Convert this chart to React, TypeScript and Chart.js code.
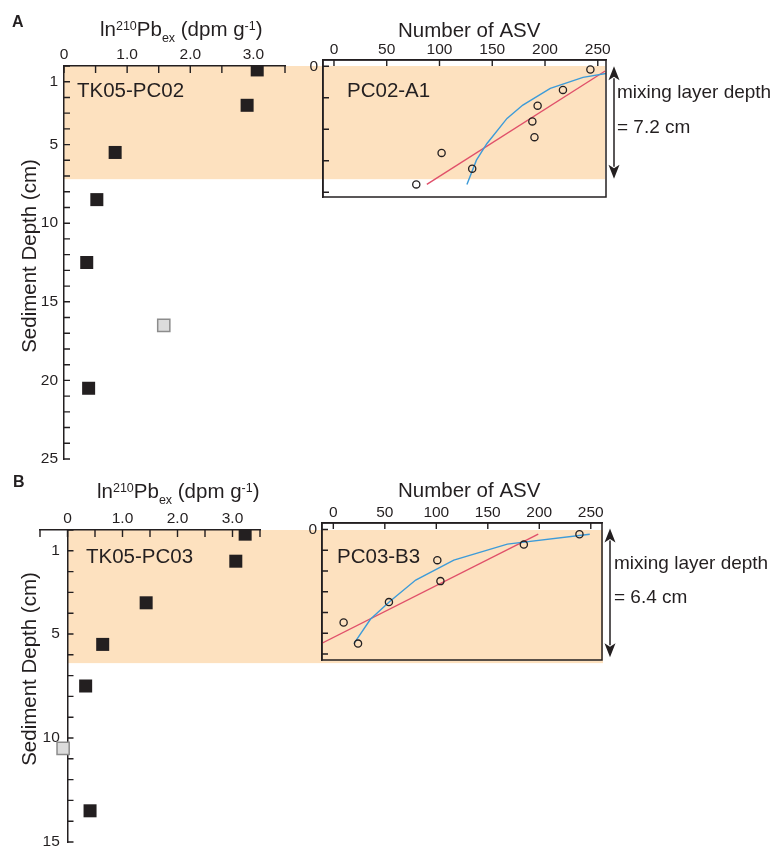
import React, { useEffect, useRef } from "react";
import { Chart, registerables } from "chart.js";

Chart.register(...registerables);

// ---------------- data: panel A (TK05-PC02 / PC02-A1) ----------------
const pbDepthA = [0.25, 2.5, 5.5, 8.5, 12.5, 20.5];
const pbValueA = [3.06, 2.9, 0.81, 0.52, 0.36, 0.39];
const pbOutlierDepthA = [16.5];
const pbOutlierValueA = [1.58];
const asvDepthA = [0.2, 1.5, 2.5, 3.5, 4.5, 5.5, 6.5, 7.5];
const asvValueA = [243, 217, 193, 188, 190, 102, 131, 78];
const linFitDepthA = [7.5, 0.3];
const linFitValueA = [88, 257];
const curveFitDepthA = [7.5, 5.96, 4.9, 3.31, 2.46, 1.4, 0.7, 0.45];
const curveFitValueA = [126, 135, 145, 164, 179, 205, 236, 258];
const mixingDepthA = 7.2;

// ---------------- data: panel B (TK05-PC03 / PC03-B3) ----------------
const pbDepthB = [0.2, 1.5, 3.5, 5.5, 7.5, 13.5];
const pbValueB = [3.23, 3.06, 1.43, 0.64, 0.33, 0.41];
const pbOutlierDepthB = [10.5];
const pbOutlierValueB = [-0.08];
const asvDepthB = [0.23, 0.73, 1.48, 2.49, 3.5, 4.48, 5.5];
const asvValueB = [239, 185, 101, 104, 54, 10, 24];
const linFitDepthB = [5.48, 0.23];
const linFitValueB = [-11, 199];
const curveFitDepthB = [5.5, 4.33, 3.48, 2.44, 1.48, 0.71, 0.23];
const curveFitValueB = [20, 36, 54.5, 80, 117, 169, 249];
const mixingDepthB = 6.4;

// ---------------- ticks ----------------
const pbTicksA = [0, 0.5, 1, 1.5, 2, 2.5, 3, 3.5];
const pbTicksB = [-0.5, 0, 0.5, 1, 1.5, 2, 2.5, 3, 3.5];
const pbLabelled = [0, 1, 2, 3];
const depthTicksA = Array.from({ length: 26 }, (_, i) => i);
const depthLabelsA = [1, 5, 10, 15, 20, 25];
const depthTicksB = Array.from({ length: 16 }, (_, i) => i);
const depthLabelsB = [1, 5, 10, 15];
const asvTicks = [0, 50, 100, 150, 200, 250];
const insetDepthTicksA = [0, 2, 4, 6, 8];
const insetDepthTicksB = [0, 1, 2, 3, 4, 5, 6];
const insetDepthLabels = [0];

// ---------------- styling ----------------
const W = 776;
const H = 847;
const FONT = "'Liberation Sans', Arial, Helvetica, sans-serif";
const INK = "#231f20";
const BAND = "#fde1bf";
const RED = "#e0506a";
const BLUE = "#3d9bd8";
const GREY_FILL = "#dcdcdc";
const GREY_EDGE = "#8c8c8c";

type Run = { t: string; size: number; dy?: number; bold?: boolean };
type Label = { runs: Run[]; x: number; y: number; align?: "left" | "center"; rotate?: boolean };
type Deco = {
  band?: { fromX: number; depth: number; right: number };
  tickLenX: number;
  tickLenY: number;
  yAxisAt?: number;
  frame?: boolean;
  labels: Label[];
  arrow?: { x: number; depth: number; trimTop: number; trimBottom: number };
};

const txt = (t: string, size = 20.5): Run[] => [{ t, size }];
const lnTitle: Run[] = [
  { t: "ln", size: 20.5 },
  { t: "210", size: 12.5, dy: -6 },
  { t: "Pb", size: 20.5 },
  { t: "ex", size: 12.5, dy: 5.5 },
  { t: " (dpm g", size: 20.5 },
  { t: "-1", size: 12.5, dy: -6 },
  { t: ")", size: 20.5 },
];

const fontOf = (r: Run) => `${r.bold ? "bold " : ""}${r.size}px ${FONT}`;

function drawLabel(ctx: CanvasRenderingContext2D, l: Label) {
  ctx.save();
  ctx.fillStyle = INK;
  ctx.textBaseline = "alphabetic";
  ctx.textAlign = "left";
  ctx.translate(l.x, l.y);
  if (l.rotate) ctx.rotate(-Math.PI / 2);
  let w = 0;
  for (const r of l.runs) {
    ctx.font = fontOf(r);
    w += ctx.measureText(r.t).width;
  }
  let cx = l.align === "center" ? -w / 2 : 0;
  for (const r of l.runs) {
    ctx.font = fontOf(r);
    ctx.fillText(r.t, cx, r.dy || 0);
    cx += ctx.measureText(r.t).width;
  }
  ctx.restore();
}

function decoPlugin(cfg: Deco) {
  return {
    id: "deco",
    beforeDraw(chart: any) {
      if (!cfg.band) return;
      const { x, y } = chart.scales;
      const ctx = chart.ctx as CanvasRenderingContext2D;
      const left = x.getPixelForValue(cfg.band.fromX);
      const top = y.getPixelForValue(0);
      const bottom = y.getPixelForValue(cfg.band.depth);
      ctx.save();
      ctx.fillStyle = BAND;
      ctx.fillRect(left, top, cfg.band.right - left, bottom - top);
      ctx.restore();
    },
    afterDraw(chart: any) {
      const { x, y } = chart.scales;
      const area = chart.chartArea;
      const ctx = chart.ctx as CanvasRenderingContext2D;
      ctx.save();
      ctx.strokeStyle = INK;
      ctx.lineWidth = 1.4;
      ctx.beginPath();
      for (const t of x.ticks) {
        const px = x.getPixelForValue(t.value);
        ctx.moveTo(px, area.top);
        ctx.lineTo(px, area.top + cfg.tickLenX);
      }
      const axisX = cfg.yAxisAt !== undefined ? x.getPixelForValue(cfg.yAxisAt) : area.left;
      for (const t of y.ticks) {
        const py = y.getPixelForValue(t.value);
        ctx.moveTo(axisX, py);
        ctx.lineTo(axisX + cfg.tickLenY, py);
      }
      ctx.stroke();
      if (cfg.frame) {
        ctx.lineWidth = 1.5;
        ctx.strokeRect(area.left, area.top, area.right - area.left, area.bottom - area.top);
      }
      if (cfg.arrow) {
        const ax = cfg.arrow.x;
        const y0 = y.getPixelForValue(0) + cfg.arrow.trimTop;
        const y1 = y.getPixelForValue(cfg.arrow.depth) - cfg.arrow.trimBottom;
        const hl = 14;
        const hw = 5.5;
        ctx.lineWidth = 1.5;
        ctx.beginPath();
        ctx.moveTo(ax, y0 + hl - 2);
        ctx.lineTo(ax, y1 - hl + 2);
        ctx.stroke();
        ctx.fillStyle = INK;
        ctx.beginPath();
        ctx.moveTo(ax, y0);
        ctx.lineTo(ax + hw, y0 + hl);
        ctx.lineTo(ax, y0 + hl - 3.5);
        ctx.lineTo(ax - hw, y0 + hl);
        ctx.closePath();
        ctx.fill();
        ctx.beginPath();
        ctx.moveTo(ax, y1);
        ctx.lineTo(ax + hw, y1 - hl);
        ctx.lineTo(ax, y1 - hl + 3.5);
        ctx.lineTo(ax - hw, y1 - hl);
        ctx.closePath();
        ctx.fill();
      }
      ctx.restore();
      for (const l of cfg.labels) drawLabel(ctx, l);
    },
  };
}

const pts = (xs: number[], ys: number[]) => xs.map((v, i) => ({ x: v, y: ys[i] }));
const tickFont = { family: FONT, size: 15.5 };
const setTicks = (vals: number[]) => (s: any) => {
  s.ticks = vals.map((v) => ({ value: v }));
};
const fmtPb = (v: number) => (pbLabelled.includes(v) ? (v === 0 ? "0" : v.toFixed(1)) : "");
const fmtList = (list: number[], suffix = "") => (v: number) =>
  list.includes(v) ? String(v) + suffix : "";

function leftConfig(p: {
  values: number[];
  depths: number[];
  oValues: number[];
  oDepths: number[];
  xMin: number;
  xMax: number;
  xTicks: number[];
  yMax: number;
  yTicks: number[];
  yLabels: number[];
  area: { left: number; top: number; right: number; bottom: number };
  yAtZero: boolean;
  deco: Deco;
}): any {
  const yScale: any = {
    type: "linear",
    reverse: true,
    min: 0,
    max: p.yMax,
    afterBuildTicks: setTicks(p.yTicks),
    grid: { display: false, drawTicks: false },
    border: { display: true, color: INK, width: 1.5 },
    ticks: {
      // axis crossing at x = 0 puts labels flush against the line; an en space keeps the gap
      callback: fmtList(p.yLabels, p.yAtZero ? "\u2002" : ""),
      autoSkip: false,
      padding: 6,
      color: INK,
      font: tickFont,
    },
    afterFit: (s: any) => {
      if (!p.yAtZero) s.width = p.area.left;
      s.paddingTop = 0;
      s.paddingBottom = 0;
    },
  };
  yScale.position = p.yAtZero ? { x: 0 } : "left";
  return {
    type: "scatter",
    data: {
      datasets: [
        {
          data: pts(p.values, p.depths),
          pointStyle: "rect",
          pointRadius: 9.2,
          backgroundColor: INK,
          borderColor: INK,
          borderWidth: 0,
        },
        {
          data: pts(p.oValues, p.oDepths),
          pointStyle: "rect",
          pointRadius: 8.6,
          backgroundColor: GREY_FILL,
          borderColor: GREY_EDGE,
          borderWidth: 1.5,
        },
      ],
    },
    options: {
      animation: false,
      responsive: false,
      devicePixelRatio: 1,
      events: [],
      layout: {
        autoPadding: false,
        padding: {
          left: p.yAtZero ? p.area.left : 0,
          top: 0,
          right: W - p.area.right,
          bottom: H - p.area.bottom,
        },
      },
      plugins: { legend: { display: false }, tooltip: { enabled: false } },
      scales: {
        x: {
          type: "linear",
          position: "top",
          min: p.xMin,
          max: p.xMax,
          afterFit: (s: any) => {
            s.height = p.area.top;
            s.paddingLeft = 0;
            s.paddingRight = 0;
          },
          afterBuildTicks: setTicks(p.xTicks),
          grid: { display: false, drawTicks: false },
          border: { display: true, color: INK, width: 1.5 },
          ticks: {
            callback: fmtPb,
            autoSkip: false,
            maxRotation: 0,
            padding: 2,
            color: INK,
            font: tickFont,
          },
        },
        y: yScale,
      },
    },
    plugins: [decoPlugin(p.deco)],
  };
}

function insetConfig(p: {
  values: number[];
  depths: number[];
  linV: number[];
  linD: number[];
  curV: number[];
  curD: number[];
  xMin: number;
  xMax: number;
  yMin: number;
  yMax: number;
  yTicks: number[];
  area: { left: number; top: number; right: number; bottom: number };
  deco: Deco;
}): any {
  return {
    type: "scatter",
    data: {
      datasets: [
        {
          data: pts(p.values, p.depths),
          pointStyle: "circle",
          pointRadius: 3.6,
          backgroundColor: "rgba(0,0,0,0)",
          borderColor: INK,
          borderWidth: 1.3,
        },
        {
          data: pts(p.curV, p.curD),
          showLine: true,
          pointRadius: 0,
          borderColor: BLUE,
          borderWidth: 1.4,
          tension: 0,
        },
        {
          data: pts(p.linV, p.linD),
          showLine: true,
          pointRadius: 0,
          borderColor: RED,
          borderWidth: 1.4,
        },
      ],
    },
    options: {
      animation: false,
      responsive: false,
      devicePixelRatio: 1,
      events: [],
      layout: {
        autoPadding: false,
        padding: { left: 0, top: 0, right: W - p.area.right, bottom: H - p.area.bottom },
      },
      plugins: { legend: { display: false }, tooltip: { enabled: false } },
      scales: {
        x: {
          type: "linear",
          position: "top",
          min: p.xMin,
          max: p.xMax,
          afterFit: (s: any) => {
            s.height = p.area.top;
            s.paddingLeft = 0;
            s.paddingRight = 0;
          },
          afterBuildTicks: setTicks(asvTicks),
          grid: { display: false, drawTicks: false },
          border: { display: true, color: INK, width: 1.5 },
          ticks: { autoSkip: false, maxRotation: 0, padding: 1, color: INK, font: tickFont },
        },
        y: {
          type: "linear",
          position: "left",
          reverse: true,
          min: p.yMin,
          max: p.yMax,
          afterFit: (s: any) => {
            s.width = p.area.left;
            s.paddingTop = 0;
            s.paddingBottom = 0;
          },
          afterBuildTicks: setTicks(p.yTicks),
          grid: { display: false, drawTicks: false },
          border: { display: true, color: INK, width: 1.5 },
          ticks: {
            callback: fmtList(insetDepthLabels),
            autoSkip: false,
            padding: 5,
            color: INK,
            font: tickFont,
          },
        },
      },
    },
    plugins: [decoPlugin(p.deco)],
  };
}

export default function App() {
  const refs = [
    useRef<HTMLCanvasElement>(null),
    useRef<HTMLCanvasElement>(null),
    useRef<HTMLCanvasElement>(null),
    useRef<HTMLCanvasElement>(null),
  ];

  useEffect(() => {
    const cfgs = [
      leftConfig({
        values: pbValueA,
        depths: pbDepthA,
        oValues: pbOutlierValueA,
        oDepths: pbOutlierDepthA,
        xMin: 0,
        xMax: 3.5,
        xTicks: pbTicksA,
        yMax: 25,
        yTicks: depthTicksA,
        yLabels: depthLabelsA,
        area: { left: 64, top: 66, right: 285, bottom: 459 },
        yAtZero: false,
        deco: {
          band: { fromX: 0, depth: mixingDepthA, right: 605 },
          tickLenX: 7,
          tickLenY: 6,
          labels: [
            { runs: [{ t: "A", size: 16, bold: true }], x: 12, y: 27 },
            { runs: lnTitle, x: 100, y: 36 },
            { runs: txt("TK05-PC02"), x: 77, y: 96.5 },
            { runs: txt("Sediment Depth (cm)"), x: 36, y: 256, align: "center", rotate: true },
          ],
        },
      }),
      insetConfig({
        values: asvValueA,
        depths: asvDepthA,
        linV: linFitValueA,
        linD: linFitDepthA,
        curV: curveFitValueA,
        curD: curveFitDepthA,
        xMin: -10.4,
        xMax: 257.8,
        yMin: -0.4,
        yMax: 8.3,
        yTicks: insetDepthTicksA,
        area: { left: 323, top: 60, right: 606, bottom: 197 },
        deco: {
          tickLenX: 6,
          tickLenY: 6,
          frame: true,
          arrow: { x: 614, depth: mixingDepthA, trimTop: 0, trimBottom: 1 },
          labels: [
            { runs: txt("Number of ASV"), x: 398, y: 37 },
            { runs: txt("PC02-A1"), x: 347, y: 96.7 },
            { runs: txt("mixing layer depth", 19), x: 617, y: 98 },
            { runs: txt("= 7.2 cm", 19), x: 617, y: 132.7 },
          ],
        },
      }),
      leftConfig({
        values: pbValueB,
        depths: pbDepthB,
        oValues: pbOutlierValueB,
        oDepths: pbOutlierDepthB,
        xMin: -0.5,
        xMax: 3.5,
        xTicks: pbTicksB,
        yMax: 15,
        yTicks: depthTicksB,
        yLabels: depthLabelsB,
        area: { left: 40, top: 530, right: 260, bottom: 842 },
        yAtZero: true,
        deco: {
          band: { fromX: 0, depth: mixingDepthB, right: 603 },
          tickLenX: 7,
          tickLenY: 6,
          yAxisAt: 0,
          labels: [
            { runs: [{ t: "B", size: 16, bold: true }], x: 13, y: 487 },
            { runs: lnTitle, x: 97, y: 498 },
            { runs: txt("TK05-PC03"), x: 86, y: 563.3 },
            { runs: txt("Sediment Depth (cm)"), x: 36, y: 669, align: "center", rotate: true },
          ],
        },
      }),
      insetConfig({
        values: asvValueB,
        depths: asvDepthB,
        linV: linFitValueB,
        linD: linFitDepthB,
        curV: curveFitValueB,
        curD: curveFitDepthB,
        xMin: -11,
        xMax: 260.9,
        yMin: -0.31,
        yMax: 6.29,
        yTicks: insetDepthTicksB,
        area: { left: 322, top: 523, right: 602, bottom: 660 },
        deco: {
          tickLenX: 6,
          tickLenY: 6,
          frame: true,
          arrow: { x: 610, depth: mixingDepthB, trimTop: -1, trimBottom: 5 },
          labels: [
            { runs: txt("Number of ASV"), x: 398, y: 496.7 },
            { runs: txt("PC03-B3"), x: 337, y: 563.3 },
            { runs: txt("mixing layer depth", 19), x: 614, y: 569.3 },
            { runs: txt("= 6.4 cm", 19), x: 614, y: 603.3 },
          ],
        },
      }),
    ];
    const charts = cfgs.map((c, i) => new Chart(refs[i].current as HTMLCanvasElement, c));
    return () => charts.forEach((c) => c.destroy());
  }, []);

  return (
    <div style={{ position: "fixed", left: 0, top: 0, width: W, height: H, background: "#ffffff" }}>
      {refs.map((r, i) => (
        <canvas
          key={i}
          ref={r}
          width={W}
          height={H}
          style={{ position: "absolute", left: 0, top: 0, width: W, height: H }}
        />
      ))}
    </div>
  );
}
